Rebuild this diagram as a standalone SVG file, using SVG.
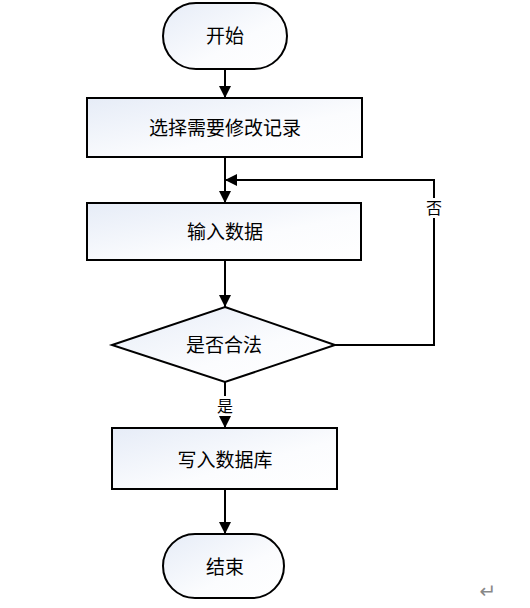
<svg xmlns="http://www.w3.org/2000/svg" width="530" height="608" viewBox="0 0 530 608">
<style>
.node{stroke:#000;stroke-width:2;fill:url(#g)}
.t{font-family:"Noto Sans CJK SC","Noto Sans",sans-serif;font-size:19px;fill:#000;text-anchor:middle;dominant-baseline:central}
.lbl{font-family:"Noto Sans CJK SC","Noto Sans",sans-serif;font-size:16px;fill:#000;text-anchor:middle;dominant-baseline:central}
.c{stroke:#000;stroke-width:2;fill:none}
</style>
<defs>
<linearGradient id="g" x1="0" y1="0" x2="1" y2="1">
<stop offset="0" stop-color="#e6ecf7"/>
<stop offset="0.6" stop-color="#fbfcfe"/>
<stop offset="1" stop-color="#ffffff"/>
</linearGradient>
<marker id="a" markerWidth="12" markerHeight="12" viewBox="0 0 12 12" refX="12" refY="6" orient="auto" markerUnits="userSpaceOnUse">
<path d="M0,0 L12,6 L0,12 Z" fill="#000"/>
</marker>
</defs>
<rect width="530" height="608" fill="#fff"/>
<g id="connectors">
<line class="c" x1="225" y1="69" x2="225" y2="98" marker-end="url(#a)"/>
<line class="c" x1="225" y1="157" x2="225" y2="203" marker-end="url(#a)"/>
<line class="c" x1="225" y1="260" x2="225" y2="307" marker-end="url(#a)"/>
<polyline class="c" points="335,345 434,345 434,180 225,180" marker-end="url(#a)"/>
<line class="c" x1="225" y1="382" x2="225" y2="428" marker-end="url(#a)"/>
<line class="c" x1="225" y1="489" x2="225" y2="534" marker-end="url(#a)"/>
<rect x="425" y="198" width="18" height="20" fill="#fff"/>
<text class="lbl" x="434" y="207">否</text>
<rect x="215" y="396" width="20" height="20" fill="#fff"/>
<text class="lbl" x="225" y="405">是</text>
</g>
<g id="start">
<rect class="node" x="163" y="3" width="124" height="66" rx="33" ry="33"/>
<text class="t" x="225" y="34">开始</text>
</g>
<g id="select">
<rect class="node" x="87" y="98" width="275" height="59"/>
<text class="t" x="225" y="126">选择需要修改记录</text>
</g>
<g id="input">
<rect class="node" x="87" y="203" width="274" height="57"/>
<text class="t" x="225" y="230">输入数据</text>
</g>
<g id="check">
<polygon class="node" points="225,307 335,345 225,382 112,345"/>
<text class="t" x="224" y="343">是否合法</text>
</g>
<g id="write">
<rect class="node" x="112" y="428" width="225" height="61"/>
<text class="t" x="225" y="458">写入数据库</text>
</g>
<g id="end">
<rect class="node" x="163" y="534" width="121" height="64" rx="32" ry="32"/>
<text class="t" x="225" y="565">结束</text>
</g>
<text x="488" y="591" font-family="DejaVu Sans,sans-serif" font-size="20" fill="#888" text-anchor="middle" dominant-baseline="central">↵</text>
</svg>
